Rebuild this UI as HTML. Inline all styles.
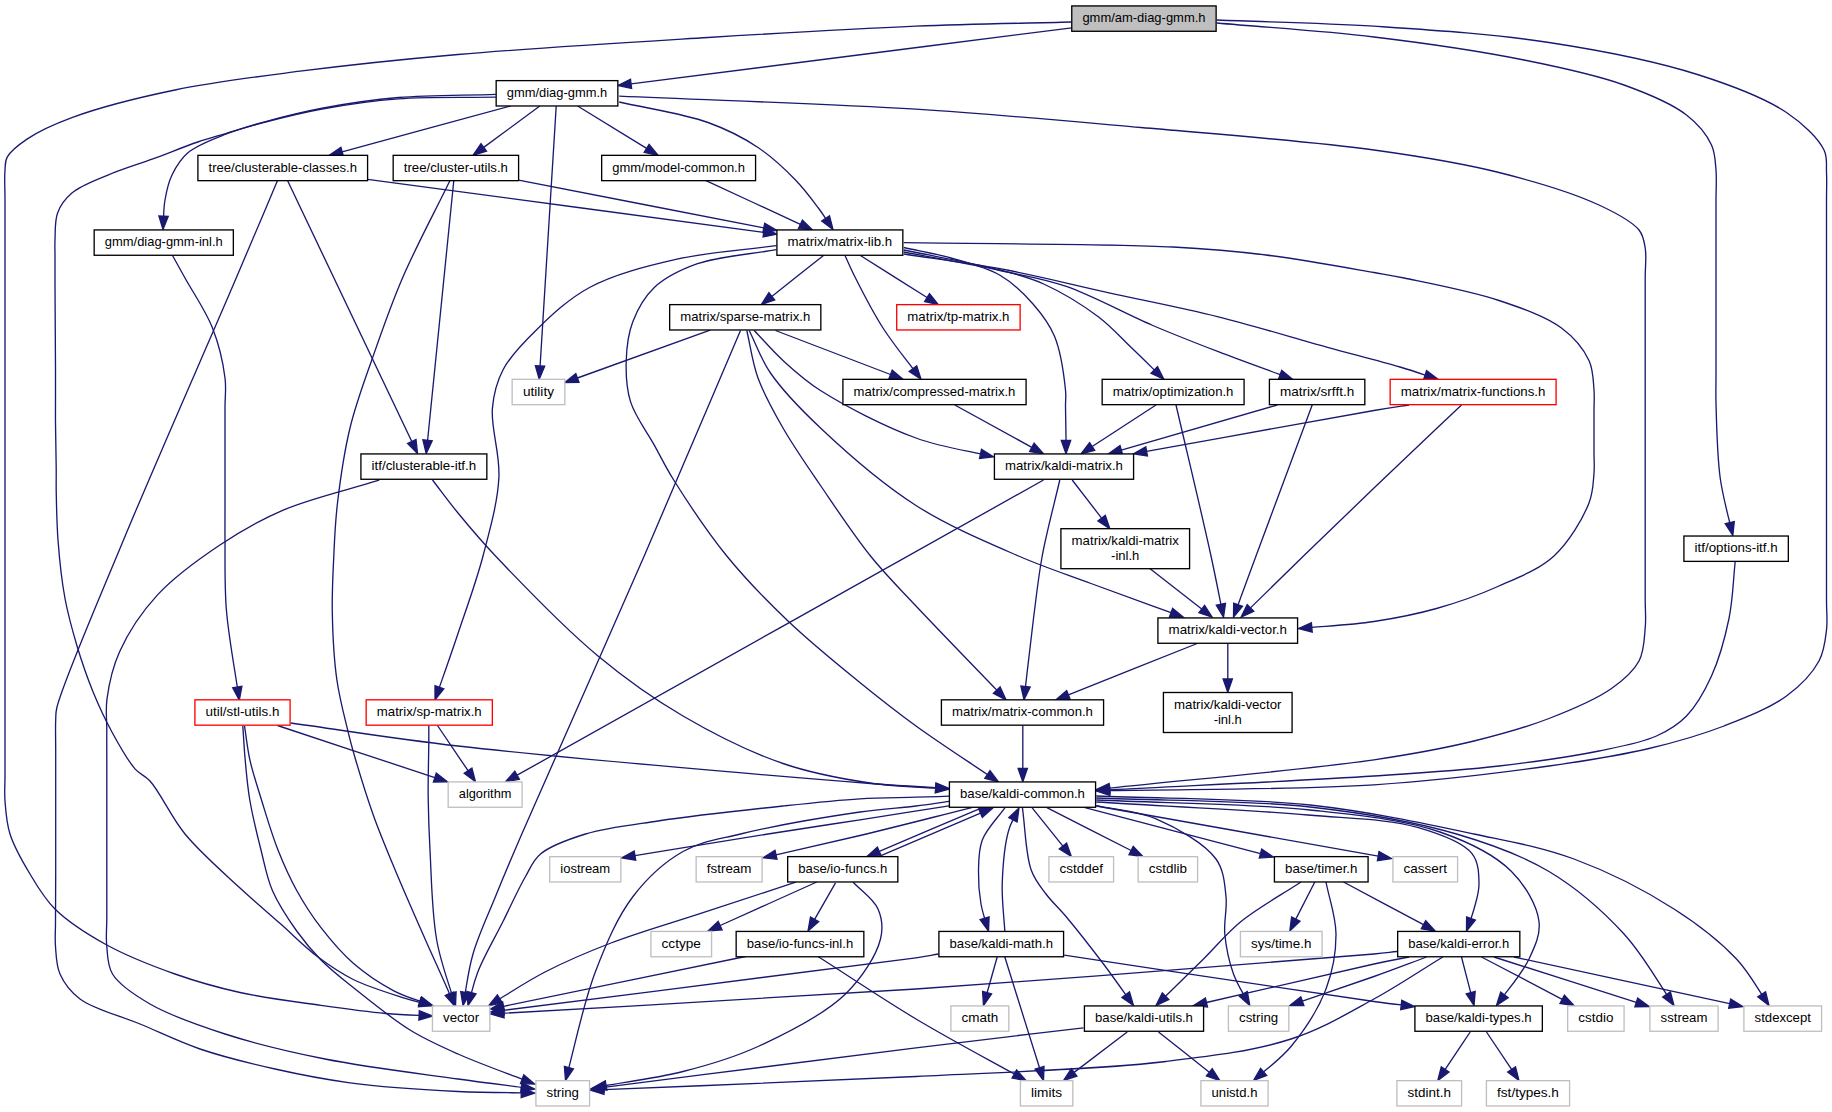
<!DOCTYPE html><html><head><meta charset="utf-8"><style>html,body{margin:0;padding:0;background:#fff;}svg{display:block;}text{font-family:"Liberation Sans",sans-serif;font-size:13.6px;fill:#000;}</style></head><body>
<svg width="1832" height="1112" viewBox="0 0 1832 1112">
<rect width="1832" height="1112" fill="#fff"/>
<g fill="none" stroke="#191970" stroke-width="1.33">
<path d="M1071.0,22.0C1019.3,23.4 971.4,24.0 916.0,26.2C851.7,28.9 780.5,33.1 708.0,37.5C628.5,42.4 531.8,48.1 458.0,54.5C399.3,59.6 349.5,64.9 300.0,71.2C255.8,76.9 214.4,81.8 175.0,90.0C138.8,97.5 98.9,107.6 71.9,117.6C53.5,124.4 38.5,131.3 27.0,139.1C18.6,144.8 10.5,151.0 7.2,157.1C4.9,161.4 5.4,164.8 5.0,170.0C4.3,177.9 5.0,187.9 5.0,200.0C5.0,218.5 5.0,251.5 5.0,270.0C5.0,282.1 5.0,290.0 5.0,300.0C5.0,310.0 5.0,314.6 5.0,330.0C5.0,381.9 5.0,618.1 5.0,670.0C5.0,685.4 5.0,690.4 5.0,700.0C5.0,708.8 5.0,715.4 5.0,725.2C5.0,739.2 5.0,761.8 5.0,775.8C5.0,785.6 4.3,792.0 5.0,801.0C5.8,811.3 6.4,822.8 10.0,834.0C14.1,847.0 22.4,861.4 30.0,874.0C37.4,886.4 44.1,898.2 55.0,909.0C68.0,921.9 86.3,933.6 105.0,944.0C125.8,955.6 151.8,965.8 175.0,974.0C196.8,981.7 217.0,987.4 240.0,992.5C265.4,998.1 295.5,1001.8 321.0,1005.4C343.7,1008.6 365.9,1011.7 385.7,1013.5C397.6,1014.6 408.3,1015.0 419.1,1015.4"/>
<path d="M1071.8,27.8C924.9,46.5 778.0,65.2 631.1,83.9"/>
<path d="M1217.0,23.0C1269.3,27.7 1322.4,30.7 1374.0,37.0C1424.7,43.1 1479.2,51.0 1524.0,60.0C1560.9,67.4 1595.0,74.5 1624.0,85.0C1647.8,93.6 1671.2,103.1 1686.5,115.0C1698.0,123.9 1706.8,134.8 1711.5,145.0C1715.3,153.2 1715.2,161.3 1716.0,170.0C1716.8,179.5 1716.0,187.9 1716.0,200.0C1716.0,218.5 1716.0,251.5 1716.0,270.0C1716.0,282.1 1716.0,290.4 1716.0,300.0C1716.0,308.9 1716.0,315.7 1716.0,325.8C1716.0,340.0 1716.0,363.0 1716.0,377.2C1716.0,387.3 1715.7,392.2 1716.0,403.0C1716.5,421.5 1717.1,454.8 1720.2,478.0C1722.4,493.9 1726.2,508.1 1729.7,522.5"/>
<path d="M1217.0,20.0C1269.3,22.1 1320.3,22.7 1374.0,26.2C1430.8,30.0 1493.2,33.9 1549.0,42.5C1601.2,50.5 1656.3,61.3 1699.0,75.0C1732.7,85.8 1764.4,97.6 1786.5,112.5C1803.0,123.6 1818.3,138.2 1824.0,150.0C1827.7,157.6 1826.1,164.1 1826.5,172.0C1827.0,181.2 1826.5,187.9 1826.5,202.0C1826.5,235.3 1826.5,336.7 1826.5,370.0C1826.5,384.1 1826.5,390.0 1826.5,400.0C1826.5,410.0 1826.5,415.9 1826.5,430.0C1826.5,463.5 1826.5,566.5 1826.5,600.0C1826.5,614.1 1827.7,620.0 1826.5,630.0C1825.3,640.3 1824.4,651.0 1819.0,661.0C1812.4,673.2 1800.3,685.9 1786.5,696.0C1769.9,708.2 1746.1,717.4 1724.0,726.0C1700.5,735.1 1676.0,742.1 1649.0,748.5C1618.3,755.8 1587.1,760.6 1549.0,766.0C1498.9,773.1 1439.1,780.5 1374.0,784.8C1296.1,789.8 1198.7,789.0 1109.6,790.7"/>
<path d="M495.8,94.3C463.3,95.4 428.8,94.9 398.4,97.5C371.3,99.8 345.6,103.8 322.0,108.2C301.4,112.1 281.7,117.2 264.6,121.8C250.5,125.6 238.2,129.7 226.4,133.3C216.2,136.4 208.3,138.4 197.8,142.0C184.4,146.5 167.9,153.4 152.9,158.9C137.9,164.4 121.9,169.1 107.9,175.1C95.1,180.6 80.6,185.7 71.9,193.1C65.1,198.9 60.4,205.3 57.6,212.9C54.6,220.9 55.4,232.3 55.0,240.0C54.7,245.7 55.0,249.1 55.0,255.0C55.0,263.3 55.0,272.5 55.0,285.0C55.1,306.1 55.4,348.9 55.5,370.0C55.5,382.5 55.5,390.7 55.5,400.0C55.5,408.1 55.4,413.8 55.5,422.6C55.6,435.1 56.1,455.4 56.2,467.9C56.3,476.7 56.1,481.5 56.2,490.5C56.5,503.8 56.7,522.8 58.0,540.0C59.4,558.7 61.6,580.2 65.0,598.5C68.1,615.0 72.2,629.7 76.8,645.2C81.5,660.9 87.1,677.2 93.1,692.0C98.8,705.9 104.8,718.9 111.8,731.7C118.8,744.6 127.6,760.5 135.2,769.1C140.2,774.7 144.6,775.0 150.0,781.0C160.0,791.9 171.0,817.0 185.0,834.0C200.5,852.8 222.9,872.1 240.0,888.0C254.3,901.3 267.1,911.9 280.2,923.6C293.0,934.9 305.0,947.2 317.7,956.8C329.4,965.6 340.1,973.0 353.3,979.5C367.9,986.7 387.5,992.7 401.9,997.3C408.3,999.3 414.1,1000.9 419.7,1002.3"/>
<path d="M495.8,97.2C463.3,97.7 428.8,96.5 398.4,98.8C371.3,100.8 345.6,104.7 322.0,109.0C301.4,112.8 281.7,117.7 264.6,122.3C250.5,126.1 238.9,129.1 226.4,134.0C213.5,139.1 197.6,144.7 188.2,152.6C180.6,159.0 175.9,167.0 172.0,175.0C168.2,182.8 166.5,191.2 165.0,200.0C164.1,205.2 163.8,210.7 163.6,216.2"/>
<path d="M510.5,106.0C454.4,121.3 398.2,136.5 342.1,151.8"/>
<path d="M539.8,106.0C521.1,119.8 502.4,133.6 483.7,147.4"/>
<path d="M556.2,106.2C550.9,192.8 545.5,279.4 540.1,365.9"/>
<path d="M577.6,106.0C600.6,120.1 623.6,134.2 646.6,148.4"/>
<path d="M619.2,102.0C648.8,108.8 683.1,113.5 708.0,122.5C727.5,129.5 743.1,137.5 758.0,147.5C772.1,156.9 785.0,169.2 795.5,180.0C804.4,189.2 811.4,198.7 818.0,207.5C820.8,211.2 823.3,214.8 825.6,218.4"/>
<path d="M619.2,96.2C718.2,100.6 824.0,103.5 916.0,109.2C996.2,114.3 1065.4,120.8 1141.0,127.5C1218.0,134.3 1308.5,141.0 1374.0,150.0C1422.3,156.7 1460.0,162.7 1499.0,172.5C1534.5,181.4 1573.7,193.2 1599.0,205.0C1615.9,212.9 1631.8,221.0 1639.0,230.0C1643.6,235.7 1644.1,241.1 1645.2,248.0C1646.7,256.6 1645.2,265.3 1645.2,278.0C1645.2,300.3 1645.2,347.7 1645.2,370.0C1645.2,382.7 1645.2,390.0 1645.2,400.0C1645.2,410.0 1645.2,415.9 1645.2,430.0C1645.2,463.3 1645.2,564.7 1645.2,598.0C1645.2,612.1 1646.2,617.8 1645.2,628.0C1644.2,638.8 1644.2,651.2 1639.0,661.0C1633.4,671.6 1623.4,680.1 1611.5,688.5C1595.6,699.8 1571.1,709.9 1549.0,718.5C1525.5,727.6 1501.0,734.4 1474.0,741.0C1443.2,748.5 1415.8,753.6 1374.0,759.8C1308.0,769.5 1199.7,778.7 1109.6,788.1"/>
<path d="M277.5,180.5C263.8,213.0 253.5,237.7 236.2,278.0C208.0,344.2 155.7,462.3 123.5,540.0C97.9,601.7 63.0,682.5 57.0,707.0C55.4,713.6 56.0,714.8 55.7,720.0C55.3,727.9 55.7,737.9 55.7,750.0C55.7,768.5 55.7,801.5 55.7,820.0C55.7,832.1 55.7,840.5 55.7,850.0C55.7,858.5 55.7,864.7 55.7,874.1C55.7,887.4 55.5,909.1 55.5,922.4C55.5,931.8 54.8,938.2 55.5,946.5C56.2,955.4 56.2,965.5 60.0,974.0C64.0,983.1 70.3,991.7 80.0,999.0C93.8,1009.4 120.0,1015.7 140.0,1024.0C160.0,1032.3 178.6,1041.7 200.0,1049.0C223.4,1056.9 249.9,1063.4 275.0,1069.0C299.9,1074.6 322.6,1079.1 350.0,1082.8C382.6,1087.1 425.1,1089.8 458.0,1091.5C480.8,1092.6 500.7,1092.6 521.3,1092.8"/>
<path d="M287.5,180.5C328.9,267.5 370.3,354.5 411.8,441.5"/>
<path d="M367.6,179.4C499.6,197.0 631.7,214.7 763.7,232.4"/>
<path d="M450.0,180.5C434.2,213.0 415.9,246.8 402.5,278.0C390.6,305.7 381.5,332.1 372.5,358.0C364.1,382.0 355.8,404.0 350.0,428.0C344.1,452.4 340.2,480.1 337.5,503.0C335.2,522.1 334.6,538.1 333.8,556.0C332.9,574.4 331.9,592.4 332.3,612.0C332.7,633.6 333.9,659.0 336.9,680.0C339.5,698.5 344.6,717.2 348.1,731.8C350.7,742.7 352.5,749.0 355.7,760.0C360.3,775.6 367.0,797.6 373.7,816.2C380.5,835.1 388.1,852.9 396.2,872.5C405.2,894.0 416.6,919.8 425.5,940.0C432.8,956.5 440.4,972.8 445.7,985.0C447.1,988.2 448.3,991.1 449.5,993.7"/>
<path d="M453.8,180.5C445.0,267.1 436.3,353.7 427.6,440.2"/>
<path d="M518.6,180.2C600.3,196.1 682.1,211.9 763.8,227.8"/>
<path d="M706.0,180.7C737.5,195.2 768.9,209.8 800.4,224.3"/>
<path d="M172.5,255.5C176.7,263.0 180.0,269.0 185.0,278.0C192.4,291.4 205.8,310.9 212.5,328.0C218.9,344.3 223.2,363.4 225.0,378.0C226.4,389.2 225.0,395.0 225.0,408.0C225.0,431.9 225.0,486.1 225.0,510.0C225.0,523.0 224.9,527.9 225.0,540.0C225.2,558.5 224.4,585.3 226.4,610.0C228.4,634.1 233.3,661.0 237.3,687.0"/>
<path d="M776.5,245.6C743.0,250.2 707.8,252.1 675.9,259.4C645.7,266.3 613.9,274.3 589.5,287.5C568.2,299.0 550.7,315.9 535.6,330.7C522.7,343.3 510.4,355.7 503.2,369.5C496.7,381.8 493.7,393.4 492.4,408.4C490.7,428.0 500.2,453.8 498.9,477.5C497.6,502.9 489.8,530.1 483.0,556.0C476.2,582.1 466.3,608.7 458.0,633.5C451.8,652.1 445.6,669.6 439.4,687.3"/>
<path d="M776.5,249.7C750.2,254.4 719.4,256.0 697.5,263.7C680.4,269.8 665.3,277.1 654.3,287.5C644.3,297.0 637.4,309.7 632.7,322.0C628.1,334.1 626.6,347.7 626.2,360.9C625.8,374.4 626.4,388.5 630.6,401.9C635.2,416.6 646.8,431.5 654.3,445.1C661.1,457.4 665.2,466.4 673.7,480.0C686.7,500.7 707.5,532.3 726.8,556.0C745.7,579.3 766.3,600.3 788.0,621.0C810.0,642.0 835.5,662.7 858.0,681.0C878.0,697.3 894.7,710.5 916.0,726.0C937.5,741.6 963.1,758.2 987.4,774.5"/>
<path d="M823.8,255.3C806.5,269.0 789.1,282.7 771.8,296.4"/>
<path d="M845.0,255.5C848.5,263.0 851.0,269.1 855.5,278.0C862.3,291.5 872.5,311.6 883.0,328.0C891.8,341.8 902.6,355.2 912.9,368.6"/>
<path d="M860.0,255.3C882.3,269.4 904.7,283.4 927.0,297.5"/>
<path d="M903.8,247.5C919.5,251.0 935.3,253.5 951.0,258.0C967.3,262.7 985.9,267.1 1000.0,275.3C1012.8,282.8 1023.6,293.2 1032.8,303.7C1041.6,313.7 1049.3,323.6 1054.6,336.4C1060.9,351.6 1064.2,377.3 1065.5,390.0C1066.2,396.8 1065.5,399.7 1065.5,405.9C1065.6,414.7 1065.9,429.0 1066.0,437.8C1066.0,438.7 1066.0,439.6 1066.0,440.4"/>
<path d="M903.8,250.0C935.9,256.7 974.3,263.2 1000.0,270.0C1017.5,274.6 1028.7,277.2 1043.7,284.0C1061.3,292.0 1082.9,305.2 1098.3,316.8C1111.2,326.5 1120.2,337.0 1131.0,347.3C1138.8,354.7 1146.5,362.3 1154.2,369.9"/>
<path d="M903.8,252.0C935.9,258.2 971.1,264.3 1000.0,270.5C1024.0,275.7 1042.5,278.3 1065.5,286.2C1092.9,295.6 1125.7,314.0 1152.8,325.5C1176.1,335.4 1195.7,343.0 1218.3,351.7C1238.2,359.4 1259.3,367.0 1280.1,374.6"/>
<path d="M903.8,254.0C935.9,258.9 967.0,262.6 1000.0,268.7C1035.3,275.3 1072.6,284.7 1109.0,292.8C1145.4,300.8 1182.0,307.7 1218.3,316.8C1254.8,325.9 1294.8,338.3 1327.5,347.3C1354.1,354.6 1379.8,361.0 1400.0,367.0C1409.6,369.9 1417.4,372.5 1425.1,375.1"/>
<path d="M903.8,242.7C993.5,244.1 1106.6,243.6 1173.0,247.0C1212.1,249.0 1233.9,251.0 1266.0,255.0C1300.7,259.3 1349.2,268.2 1374.0,272.5C1387.1,274.8 1391.2,275.3 1404.0,278.0C1426.8,282.8 1471.0,291.1 1499.0,300.5C1522.4,308.3 1545.8,316.3 1561.5,328.0C1573.9,337.2 1583.7,349.2 1589.0,360.5C1593.4,370.0 1593.2,381.0 1594.0,390.0C1594.6,397.5 1594.0,402.6 1594.0,410.8C1594.0,422.2 1594.0,440.8 1594.0,452.2C1594.0,460.4 1594.6,465.5 1594.0,473.0C1593.2,482.1 1593.3,492.1 1589.0,503.0C1582.8,518.8 1569.1,542.1 1554.0,556.0C1539.0,569.8 1518.3,577.3 1499.0,586.0C1479.2,594.9 1457.5,602.6 1436.5,608.5C1415.9,614.3 1395.9,618.2 1374.0,621.5C1354.3,624.5 1332.8,625.7 1311.8,627.4"/>
<path d="M710.2,330.0C665.9,346.0 621.6,362.0 577.4,378.0"/>
<path d="M740.5,330.5C708.4,405.7 678.5,477.0 644.2,556.0C606.1,643.9 547.4,774.3 521.8,834.0C509.6,862.2 503.8,876.1 495.5,896.5C487.6,916.0 478.5,935.1 473.0,954.0C469.2,967.0 467.4,979.6 465.3,992.4"/>
<path d="M746.8,330.5C750.5,346.3 752.3,362.3 758.0,378.0C764.1,394.8 773.3,411.0 783.0,428.0C793.8,446.8 806.9,465.5 820.5,485.5C835.8,507.9 853.6,535.0 870.5,556.0C885.5,574.6 898.1,586.9 916.0,606.0C938.3,629.8 969.0,661.3 996.8,690.1"/>
<path d="M749.2,330.5C756.3,344.7 760.6,358.6 770.5,373.0C782.8,391.0 800.3,408.9 820.5,428.0C846.5,452.6 882.3,483.9 916.0,505.5C948.5,526.3 987.0,542.3 1018.5,556.0C1044.5,567.3 1065.3,573.9 1091.0,583.5C1116.0,592.8 1143.9,602.9 1171.0,612.7"/>
<path d="M754.2,330.5C763.8,340.5 772.4,350.8 783.0,360.5C794.4,370.9 804.4,380.2 820.5,390.5C844.4,405.8 885.2,426.8 916.0,438.0C938.1,446.1 959.2,449.4 980.5,453.8"/>
<path d="M775.5,330.5C813.8,345.2 852.2,359.8 890.5,374.5"/>
<path d="M954.8,405.0C980.4,419.1 1006.1,433.2 1031.8,447.3"/>
<path d="M1156.0,405.0C1134.7,418.8 1113.5,432.7 1092.2,446.5"/>
<path d="M1176.0,405.0C1187.7,455.3 1202.5,516.8 1211.0,556.0C1215.2,575.4 1217.9,589.3 1220.9,604.2"/>
<path d="M1277.2,405.0C1225.3,420.0 1173.3,435.0 1121.3,450.1"/>
<path d="M1312.2,405.0C1293.5,455.3 1270.5,516.8 1256.0,556.0C1248.7,575.6 1243.6,589.7 1238.1,604.7"/>
<path d="M1409.0,405.0C1397.3,406.8 1390.9,407.7 1374.0,410.5C1332.1,417.6 1225.8,437.1 1146.6,451.4"/>
<path d="M1461.5,405.0C1432.3,432.7 1401.5,461.7 1374.0,488.0C1349.2,511.7 1326.3,533.9 1303.5,556.0C1285.3,573.7 1268.0,590.7 1250.5,607.9"/>
<path d="M379.2,480.2C347.2,490.2 311.3,498.1 283.2,510.1C259.5,520.2 240.7,531.1 220.3,544.7C198.7,559.1 174.5,576.3 157.3,595.1C141.5,612.3 128.0,633.0 119.6,651.7C112.4,667.6 108.9,684.7 107.0,698.9C105.5,710.2 106.8,719.7 106.8,730.0C106.7,740.1 106.8,746.1 106.8,760.0C106.8,791.8 106.8,884.7 106.8,916.5C106.8,930.4 105.7,936.8 106.8,946.5C107.7,955.9 107.3,965.5 112.5,974.0C119.3,985.1 134.5,995.0 150.0,1004.0C170.0,1015.7 197.9,1025.2 225.0,1034.0C255.6,1043.9 289.1,1051.8 325.0,1059.0C366.0,1067.2 419.7,1073.6 458.0,1079.0C481.9,1082.4 501.1,1084.7 521.4,1087.3"/>
<path d="M432.5,480.0C441.0,491.0 448.5,501.4 458.0,513.0C469.1,526.5 479.5,539.1 495.5,556.0C520.9,582.8 564.3,628.0 598.0,656.0C626.7,679.9 652.7,698.3 683.0,716.0C714.2,734.3 750.2,752.2 783.0,763.5C812.4,773.6 841.5,778.8 870.0,783.0C892.3,786.3 913.9,786.9 935.7,788.1"/>
<path d="M1043.5,480.0C868.0,578.4 692.6,676.8 517.1,775.2"/>
<path d="M1059.8,480.0C1053.9,505.3 1046.7,531.8 1042.2,556.0C1038.2,577.8 1036.4,596.3 1033.5,618.5C1030.8,639.7 1028.2,663.4 1025.5,686.5"/>
<path d="M1072.2,480.0C1082.0,492.7 1091.8,505.4 1101.6,518.1"/>
<path d="M1149.8,568.5C1167.1,582.0 1184.4,595.5 1201.7,609.1"/>
<path d="M1735.2,561.5C1733.2,580.5 1732.9,599.6 1729.0,618.5C1725.0,637.8 1719.2,659.0 1711.5,676.0C1704.7,691.0 1696.5,705.7 1686.5,716.0C1677.8,725.0 1668.7,730.5 1656.5,736.0C1640.9,743.0 1620.9,746.5 1599.0,751.0C1570.4,756.9 1534.3,761.9 1499.0,766.0C1459.7,770.5 1423.9,772.7 1374.0,776.0C1303.2,780.7 1199.3,785.2 1109.6,789.8"/>
<path d="M1197.2,643.5C1154.3,660.6 1111.3,677.7 1068.4,694.8"/>
<path d="M1227.8,643.5C1227.8,655.3 1227.8,667.1 1227.8,679.0"/>
<path d="M277.5,725.5C329.9,742.9 382.4,760.2 434.8,777.6"/>
<path d="M290.8,723.0C346.5,730.7 389.8,738.2 458.0,746.0C564.9,758.2 786.9,777.0 870.5,783.5C900.4,785.8 916.4,786.6 935.7,787.7"/>
<path d="M244.5,725.9C246.3,737.3 247.3,748.3 249.9,760.0C252.8,772.9 257.2,786.0 261.5,800.0C266.4,815.8 271.8,834.4 278.0,850.0C283.7,864.4 289.5,877.5 296.7,890.5C303.9,903.4 311.8,915.8 321.0,927.7C330.6,940.1 341.2,952.8 353.3,963.3C365.5,973.9 380.0,983.6 393.8,990.8C402.4,995.3 411.2,998.2 420.0,1001.2"/>
<path d="M242.8,725.9C243.6,737.3 244.1,748.2 245.2,760.0C246.4,772.8 247.4,786.0 249.8,800.0C252.5,815.8 257.0,834.3 261.0,850.0C264.6,864.3 266.7,877.4 272.4,890.5C278.4,904.4 288.1,918.9 296.7,931.0C304.4,941.8 311.9,950.8 321.0,960.0C330.6,969.7 340.8,977.6 353.3,987.6C369.4,1000.5 391.4,1018.5 410.0,1030.0C426.2,1040.0 439.9,1046.0 458.0,1054.0C476.8,1062.4 500.1,1070.8 522.2,1079.2"/>
<path d="M437.5,725.5C447.7,740.6 457.9,755.6 468.0,770.7"/>
<path d="M428.8,725.8C428.8,731.8 428.8,736.8 428.8,743.9C428.7,753.9 428.3,770.1 428.2,780.1C428.1,787.2 428.1,790.6 428.2,798.2C428.4,811.0 428.9,830.4 430.0,850.0C431.4,875.9 431.8,912.5 436.7,940.0C440.1,959.2 446.1,976.0 451.6,993.2"/>
<path d="M1022.8,725.5C1022.8,730.2 1022.8,734.1 1022.8,739.6C1022.8,747.3 1022.8,759.9 1022.8,767.7C1022.8,767.9 1022.8,768.2 1022.8,768.4"/>
<path d="M949.0,796.2C938.0,796.6 928.4,796.9 916.0,797.2C899.8,797.7 880.1,797.6 860.0,798.8C836.4,800.2 811.7,802.9 783.0,806.0C746.3,809.9 694.0,815.6 658.0,821.0C630.5,825.1 606.5,827.6 585.5,834.0C568.4,839.3 550.8,845.3 540.5,854.0C532.9,860.4 530.7,867.5 525.5,876.5C518.4,888.7 510.7,906.1 503.0,921.5C494.9,937.7 484.0,956.2 478.0,971.5C475.1,979.0 473.2,985.8 471.5,992.6"/>
<path d="M949.0,801.4C938.0,802.9 928.5,804.5 916.0,806.0C899.8,808.0 882.1,808.8 860.0,812.0C827.6,816.7 772.9,826.1 740.5,834.0C717.7,839.6 700.5,841.6 683.0,851.5C664.5,862.0 647.1,878.0 633.0,896.5C617.3,917.1 606.2,943.6 595.5,971.5C584.5,1000.1 577.3,1034.9 568.9,1067.6"/>
<path d="M949.0,805.8C919.3,810.5 889.9,815.1 860.0,819.8C829.6,824.5 802.2,828.6 768.0,834.0C728.7,840.2 680.1,848.2 634.9,855.6"/>
<path d="M971.8,807.6C934.5,816.9 896.0,826.9 860.0,835.5C831.1,842.4 803.8,848.5 776.0,854.8"/>
<path d="M982.3,807.6C948.0,822.2 913.6,836.7 879.3,851.3"/>
<path d="M881.0,855.6C914.2,841.5 947.3,827.3 980.5,813.2"/>
<path d="M1005.0,807.6C997.4,818.4 986.6,828.6 982.3,839.9C978.4,850.0 978.7,860.9 978.5,871.5C978.3,882.2 979.2,893.8 981.0,904.0C981.9,909.0 983.2,913.6 984.6,918.3"/>
<path d="M1004.8,931.0C1003.9,915.3 1001.7,900.1 1002.2,884.0C1002.8,866.8 1004.6,844.8 1008.5,831.0C1009.7,826.7 1011.2,823.2 1012.9,819.9"/>
<path d="M1022.4,807.6C1025.3,828.4 1025.6,854.5 1031.2,870.0C1034.9,880.4 1040.3,886.4 1046.0,894.0C1051.9,901.9 1058.4,907.5 1066.0,916.5C1076.7,929.3 1091.8,948.6 1103.5,964.0C1111.4,974.5 1118.5,984.5 1125.7,994.7"/>
<path d="M1032.0,807.6C1042.3,820.4 1052.6,833.3 1062.9,846.1"/>
<path d="M1046.9,807.6C1075.0,821.9 1103.0,836.2 1131.1,850.5"/>
<path d="M1096.3,805.6C1116.0,810.0 1136.4,810.6 1155.5,818.7C1176.4,827.6 1204.8,843.4 1216.0,859.0C1224.1,870.4 1224.6,883.9 1226.0,896.5C1227.4,908.9 1223.6,921.4 1224.8,934.0C1226.0,947.2 1229.1,961.7 1233.5,974.0C1236.1,981.1 1239.6,987.5 1243.3,993.9"/>
<path d="M1085.0,807.6C1143.5,822.9 1202.0,838.3 1260.5,853.6"/>
<path d="M1096.3,806.0C1190.3,822.7 1284.2,839.4 1378.2,856.2"/>
<path d="M1096.3,802.0C1166.9,806.3 1249.0,809.9 1308.0,815.0C1350.5,818.7 1387.9,818.9 1417.5,827.4C1439.4,833.7 1462.5,841.7 1472.0,853.6C1478.8,862.1 1478.9,874.3 1479.0,884.0C1479.1,892.7 1476.2,901.0 1474.0,909.0C1473.1,912.2 1472.1,915.4 1471.0,918.5"/>
<path d="M1096.3,800.0C1167.5,803.3 1247.7,803.3 1310.0,810.0C1358.9,815.3 1404.0,819.4 1440.0,832.0C1468.4,841.9 1494.7,854.6 1511.5,871.5C1525.6,885.6 1537.1,905.7 1539.0,921.5C1540.6,934.6 1534.9,946.4 1529.0,959.0C1523.5,970.8 1513.6,982.8 1504.4,994.8"/>
<path d="M1096.3,798.0C1167.5,801.0 1245.7,799.8 1310.0,807.0C1363.7,813.0 1413.8,821.6 1456.5,834.0C1491.4,844.2 1521.0,854.7 1549.0,871.5C1576.7,888.1 1602.8,910.9 1624.0,934.0C1641.0,952.5 1653.1,973.9 1666.6,994.4"/>
<path d="M1096.3,796.0C1167.5,799.0 1243.7,797.8 1310.0,805.0C1368.5,811.4 1426.2,823.8 1474.0,834.0C1511.6,842.0 1541.3,846.9 1574.0,859.0C1608.0,871.6 1645.4,890.7 1674.0,909.0C1698.2,924.5 1720.0,941.4 1736.5,959.0C1747.1,970.3 1754.1,982.4 1761.7,994.4"/>
<path d="M795.7,882.2C763.8,892.7 731.3,903.3 700.0,913.6C669.8,923.5 638.2,932.5 611.0,943.0C587.1,952.2 565.8,961.2 545.0,972.0C529.1,980.2 514.6,989.6 499.9,998.8"/>
<path d="M816.8,882.0C784.6,896.5 752.4,911.0 720.2,925.5"/>
<path d="M835.5,882.8C828.5,895.0 821.6,907.2 814.6,919.4"/>
<path d="M853.0,882.0C861.3,891.0 873.6,898.9 878.0,909.0C882.0,918.1 883.2,928.0 880.5,939.0C876.5,955.2 862.3,977.6 845.5,994.0C824.4,1014.5 786.8,1033.3 758.0,1046.5C732.7,1058.1 709.4,1064.8 683.0,1071.5C658.7,1077.7 632.1,1081.2 606.1,1085.5"/>
<path d="M745.5,956.5C664.9,973.1 584.2,989.7 503.6,1006.3"/>
<path d="M818.0,956.5C850.7,977.3 882.1,998.7 916.0,1019.0C947.6,1037.9 981.3,1055.8 1014.3,1074.0"/>
<path d="M938.5,954.0C931.0,955.2 928.2,956.0 916.0,957.8C864.6,965.3 646.2,992.2 503.7,1010.3"/>
<path d="M997.2,957.0C993.9,968.9 990.5,980.8 987.1,992.7"/>
<path d="M1004.8,957.0C1016.3,993.9 1027.9,1030.9 1039.5,1067.8"/>
<path d="M1064.2,955.2C1167.5,970.7 1319.1,994.0 1374.0,1001.5C1386.5,1003.2 1394.0,1004.1 1401.3,1004.9"/>
<path d="M1301.0,882.0C1281.0,895.2 1258.1,907.6 1241.0,921.5C1226.3,933.5 1216.8,945.9 1203.5,959.0C1191.6,970.8 1178.4,983.6 1165.5,996.2"/>
<path d="M1314.8,882.0C1308.4,894.4 1302.1,906.8 1295.8,919.1"/>
<path d="M1326.0,882.0C1329.3,899.3 1335.9,916.4 1336.0,934.0C1336.1,952.1 1332.8,971.1 1326.0,989.0C1318.5,1008.7 1304.1,1030.6 1291.0,1046.5C1282.6,1056.6 1273.1,1064.1 1263.6,1071.8"/>
<path d="M1343.5,882.0C1370.2,896.2 1396.8,910.5 1423.5,924.7"/>
<path d="M1397.0,951.5C1389.3,952.3 1386.5,952.8 1374.0,954.0C1318.1,959.2 1065.9,978.9 916.0,989.0C776.1,998.5 641.1,1005.2 503.8,1013.2"/>
<path d="M1409.0,957.0C1397.3,959.3 1390.2,960.5 1374.0,964.0C1339.8,971.4 1265.2,989.0 1206.5,1002.5"/>
<path d="M1426.5,957.0C1409.0,963.5 1393.6,969.5 1374.0,976.5C1352.9,984.0 1327.0,992.8 1302.4,1001.2"/>
<path d="M1442.8,957.0C1419.8,971.0 1398.3,985.7 1374.0,999.0C1348.0,1013.2 1322.3,1028.9 1291.0,1039.0C1254.3,1050.9 1215.0,1055.6 1166.0,1061.5C1097.2,1069.7 1004.8,1072.0 916.0,1076.5C818.8,1081.5 708.4,1085.3 603.8,1089.7"/>
<path d="M1461.5,957.0C1464.6,968.9 1467.6,980.7 1470.7,992.6"/>
<path d="M1481.5,957.0C1508.4,971.1 1535.3,985.2 1562.2,999.3"/>
<path d="M1494.0,957.0C1541.4,972.1 1588.9,987.3 1636.3,1002.4"/>
<path d="M1514.0,957.0C1585.9,972.6 1657.8,988.1 1729.7,1003.7"/>
<path d="M1083.5,1027.8C1027.7,1034.4 981.0,1039.8 916.0,1047.8C829.0,1058.5 709.1,1073.9 603.7,1087.3"/>
<path d="M1127.2,1032.0C1109.5,1045.5 1091.8,1059.0 1074.1,1072.4"/>
<path d="M1158.5,1032.0C1175.4,1045.4 1192.4,1058.8 1209.3,1072.2"/>
<path d="M1470.2,1032.0C1461.9,1044.5 1453.5,1057.0 1445.2,1069.4"/>
<path d="M1486.5,1032.0C1494.9,1044.5 1503.2,1057.0 1511.6,1069.4"/>
</g><g fill="#191970" stroke="#191970" stroke-width="1.33">
<polygon points="432.4,1016.0 418.9,1020.1 419.3,1010.7"/>
<polygon points="617.8,85.6 630.5,79.2 631.6,88.5"/>
<polygon points="1732.8,535.5 1725.2,523.6 1734.3,521.5"/>
<polygon points="1096.3,791.0 1109.5,786.1 1109.7,795.4"/>
<polygon points="432.6,1005.6 418.5,1006.8 420.9,997.8"/>
<polygon points="163.0,229.5 158.9,216.0 168.2,216.4"/>
<polygon points="329.3,155.3 340.9,147.3 343.4,156.3"/>
<polygon points="473.0,155.3 481.0,143.7 486.5,151.2"/>
<polygon points="539.2,379.2 535.4,365.7 544.7,366.2"/>
<polygon points="658.0,155.3 644.2,152.3 649.1,144.4"/>
<polygon points="833.0,229.5 821.7,221.0 829.5,215.8"/>
<polygon points="1096.3,789.5 1109.1,783.5 1110.0,792.7"/>
<polygon points="534.6,1093.0 521.2,1097.5 521.3,1088.1"/>
<polygon points="417.5,453.5 407.6,443.5 416.0,439.5"/>
<polygon points="776.9,234.2 763.1,237.0 764.3,227.8"/>
<polygon points="454.7,1006.0 445.2,995.6 453.8,991.9"/>
<polygon points="426.2,453.5 422.9,439.8 432.2,440.7"/>
<polygon points="776.9,230.4 762.9,232.4 764.7,223.2"/>
<polygon points="812.5,229.9 798.4,228.6 802.4,220.1"/>
<polygon points="239.3,700.2 232.7,687.7 241.9,686.3"/>
<polygon points="435.0,699.9 435.0,685.8 443.8,688.8"/>
<polygon points="998.5,781.9 984.8,778.3 990.0,770.6"/>
<polygon points="761.3,304.6 768.9,292.7 774.7,300.0"/>
<polygon points="921.0,379.2 909.2,371.4 916.7,365.8"/>
<polygon points="938.3,304.6 924.6,301.5 929.5,293.6"/>
<polygon points="1066.0,453.8 1061.3,440.4 1070.7,440.4"/>
<polygon points="1163.8,379.2 1151.0,373.3 1157.5,366.6"/>
<polygon points="1292.6,379.2 1278.5,379.0 1281.7,370.3"/>
<polygon points="1437.8,379.2 1423.6,379.5 1426.6,370.6"/>
<polygon points="1298.5,628.5 1311.4,622.7 1312.2,632.0"/>
<polygon points="564.8,382.5 575.8,373.6 579.0,382.3"/>
<polygon points="463.0,1005.5 460.7,991.6 469.9,993.2"/>
<polygon points="1006.0,699.8 993.4,693.4 1000.1,686.9"/>
<polygon points="1183.5,617.2 1169.4,617.1 1172.6,608.3"/>
<polygon points="993.5,456.8 979.5,458.4 981.5,449.3"/>
<polygon points="903.0,379.2 888.9,378.9 892.2,370.1"/>
<polygon points="1043.5,453.8 1029.6,451.4 1034.1,443.2"/>
<polygon points="1081.0,453.8 1089.6,442.6 1094.7,450.4"/>
<polygon points="1223.5,617.2 1216.3,605.1 1225.5,603.3"/>
<polygon points="1108.5,453.8 1120.0,445.6 1122.6,454.5"/>
<polygon points="1233.5,617.2 1233.7,603.1 1242.5,606.3"/>
<polygon points="1133.5,453.8 1145.8,446.8 1147.4,456.0"/>
<polygon points="1241.0,617.2 1247.2,604.6 1253.8,611.2"/>
<polygon points="534.6,1089.0 520.8,1091.9 522.0,1082.7"/>
<polygon points="949.0,789.0 935.4,792.8 936.0,783.5"/>
<polygon points="505.5,781.8 514.8,771.2 519.4,779.3"/>
<polygon points="1024.0,699.8 1020.9,686.0 1030.2,687.0"/>
<polygon points="1109.8,528.7 1097.9,521.0 1105.3,515.3"/>
<polygon points="1212.2,617.2 1198.9,612.7 1204.6,605.4"/>
<polygon points="1096.3,790.5 1109.4,785.1 1109.9,794.5"/>
<polygon points="1056.0,699.8 1066.7,690.5 1070.1,699.2"/>
<polygon points="1227.8,692.3 1223.1,679.0 1232.4,679.0"/>
<polygon points="447.5,781.8 433.4,782.0 436.3,773.1"/>
<polygon points="949.0,788.5 935.4,792.4 936.0,783.0"/>
<polygon points="432.6,1005.6 418.5,1005.6 421.6,996.8"/>
<polygon points="534.6,1084.0 520.5,1083.6 523.8,1074.8"/>
<polygon points="475.5,781.8 464.2,773.3 471.9,768.1"/>
<polygon points="455.5,1006.0 447.2,994.6 456.1,991.9"/>
<polygon points="1022.8,781.8 1018.1,768.4 1027.4,768.4"/>
<polygon points="468.0,1005.5 466.9,991.4 476.0,993.8"/>
<polygon points="565.5,1080.5 564.4,1066.4 573.4,1068.8"/>
<polygon points="621.8,857.8 634.2,851.0 635.7,860.2"/>
<polygon points="763.0,857.8 775.0,850.2 777.0,859.3"/>
<polygon points="867.0,856.5 877.4,847.0 881.1,855.6"/>
<polygon points="992.8,808.0 982.3,817.5 978.7,808.9"/>
<polygon points="988.5,931.0 980.1,919.6 989.1,916.9"/>
<polygon points="1019.0,808.0 1017.1,822.0 1008.8,817.7"/>
<polygon points="1133.5,1005.5 1121.9,997.4 1129.5,991.9"/>
<polygon points="1071.3,856.5 1059.3,849.0 1066.6,843.2"/>
<polygon points="1143.0,856.5 1129.0,854.6 1133.2,846.3"/>
<polygon points="1249.8,1005.5 1239.2,996.1 1247.3,991.6"/>
<polygon points="1273.4,857.0 1259.3,858.1 1261.7,849.1"/>
<polygon points="1391.3,858.5 1377.4,860.8 1379.0,851.6"/>
<polygon points="1466.5,931.0 1466.6,916.9 1475.4,920.0"/>
<polygon points="1496.5,1005.5 1500.7,992.0 1508.2,997.6"/>
<polygon points="1674.0,1005.5 1662.7,997.1 1670.4,991.8"/>
<polygon points="1769.0,1005.5 1757.8,996.9 1765.6,991.8"/>
<polygon points="488.5,1005.8 497.4,994.9 502.3,1002.8"/>
<polygon points="708.0,931.0 718.2,921.3 722.1,929.8"/>
<polygon points="808.0,931.0 810.5,917.1 818.7,921.7"/>
<polygon points="593.0,1087.8 605.3,1080.9 606.9,1090.1"/>
<polygon points="490.5,1009.0 502.6,1001.7 504.5,1010.9"/>
<polygon points="1026.0,1080.5 1012.1,1078.1 1016.6,1069.9"/>
<polygon points="490.5,1012.0 503.1,1005.7 504.3,1014.9"/>
<polygon points="983.5,1005.5 982.6,991.4 991.6,993.9"/>
<polygon points="1043.5,1080.5 1035.1,1069.2 1044.0,1066.4"/>
<polygon points="1414.5,1006.5 1400.7,1009.6 1401.8,1000.3"/>
<polygon points="1156.0,1005.5 1162.3,992.8 1168.8,999.5"/>
<polygon points="1289.8,931.0 1291.6,917.0 1300.0,921.2"/>
<polygon points="1253.5,1080.5 1260.6,1068.3 1266.7,1075.4"/>
<polygon points="1435.2,931.0 1421.3,928.8 1425.7,920.6"/>
<polygon points="490.5,1014.0 503.5,1008.6 504.1,1017.9"/>
<polygon points="1193.5,1005.5 1205.4,998.0 1207.5,1007.1"/>
<polygon points="1289.8,1005.5 1300.8,996.8 1303.9,1005.6"/>
<polygon points="590.5,1090.2 603.6,1085.0 604.0,1094.4"/>
<polygon points="1474.0,1005.5 1466.2,993.8 1475.2,991.4"/>
<polygon points="1574.0,1005.5 1560.0,1003.4 1564.4,995.2"/>
<polygon points="1649.0,1006.5 1634.9,1006.9 1637.7,998.0"/>
<polygon points="1742.8,1006.5 1728.7,1008.2 1730.7,999.1"/>
<polygon points="590.5,1089.0 603.1,1082.7 604.3,1092.0"/>
<polygon points="1063.5,1080.5 1071.3,1068.7 1076.9,1076.1"/>
<polygon points="1219.8,1080.5 1206.4,1075.9 1212.2,1068.6"/>
<polygon points="1437.8,1080.5 1441.3,1066.8 1449.0,1072.0"/>
<polygon points="1519.0,1080.5 1507.7,1072.0 1515.5,1066.8"/>
</g>
<rect x="1071.76" y="5.93" width="144.37" height="25.34" fill="#bfbfbf" stroke="#000" stroke-width="1.33"/>
<text x="1143.95" y="22.30" text-anchor="middle" textLength="123.07" lengthAdjust="spacingAndGlyphs">gmm/am-diag-gmm.h</text>
<rect x="496.17" y="80.63" width="121.67" height="25.34" fill="#fff" stroke="#000" stroke-width="1.33"/>
<text x="557.00" y="97.00" text-anchor="middle" textLength="100.37" lengthAdjust="spacingAndGlyphs">gmm/diag-gmm.h</text>
<rect x="197.91" y="155.33" width="169.67" height="25.34" fill="#fff" stroke="#000" stroke-width="1.33"/>
<text x="282.75" y="171.70" text-anchor="middle" textLength="148.37" lengthAdjust="spacingAndGlyphs">tree/clusterable-classes.h</text>
<rect x="393.17" y="155.33" width="125.42" height="25.34" fill="#fff" stroke="#000" stroke-width="1.33"/>
<text x="455.88" y="171.70" text-anchor="middle" textLength="104.12" lengthAdjust="spacingAndGlyphs">tree/cluster-utils.h</text>
<rect x="601.66" y="155.33" width="153.92" height="25.34" fill="#fff" stroke="#000" stroke-width="1.33"/>
<text x="678.62" y="171.70" text-anchor="middle" textLength="132.62" lengthAdjust="spacingAndGlyphs">gmm/model-common.h</text>
<rect x="94.17" y="229.93" width="139.17" height="25.34" fill="#fff" stroke="#000" stroke-width="1.33"/>
<text x="163.75" y="246.30" text-anchor="middle" textLength="117.87" lengthAdjust="spacingAndGlyphs">gmm/diag-gmm-inl.h</text>
<rect x="776.91" y="229.93" width="125.92" height="25.34" fill="#fff" stroke="#000" stroke-width="1.33"/>
<text x="839.88" y="246.30" text-anchor="middle" textLength="104.62" lengthAdjust="spacingAndGlyphs">matrix/matrix-lib.h</text>
<rect x="669.66" y="304.63" width="151.17" height="25.34" fill="#fff" stroke="#000" stroke-width="1.33"/>
<text x="745.25" y="321.00" text-anchor="middle" textLength="129.87" lengthAdjust="spacingAndGlyphs">matrix/sparse-matrix.h</text>
<rect x="896.71" y="304.63" width="123.42" height="25.34" fill="#fff" stroke="#ff0000" stroke-width="1.33"/>
<text x="958.42" y="321.00" text-anchor="middle" textLength="102.12" lengthAdjust="spacingAndGlyphs">matrix/tp-matrix.h</text>
<rect x="512.16" y="379.33" width="52.67" height="25.34" fill="#fff" stroke="#bfbfbf" stroke-width="1.33"/>
<text x="538.50" y="395.70" text-anchor="middle" textLength="30.97" lengthAdjust="spacingAndGlyphs">utility</text>
<rect x="842.91" y="379.33" width="183.17" height="25.34" fill="#fff" stroke="#000" stroke-width="1.33"/>
<text x="934.50" y="395.70" text-anchor="middle" textLength="161.87" lengthAdjust="spacingAndGlyphs">matrix/compressed-matrix.h</text>
<rect x="1102.16" y="379.33" width="141.92" height="25.34" fill="#fff" stroke="#000" stroke-width="1.33"/>
<text x="1173.12" y="395.70" text-anchor="middle" textLength="120.62" lengthAdjust="spacingAndGlyphs">matrix/optimization.h</text>
<rect x="1269.41" y="379.33" width="95.42" height="25.34" fill="#fff" stroke="#000" stroke-width="1.33"/>
<text x="1317.12" y="395.70" text-anchor="middle" textLength="74.12" lengthAdjust="spacingAndGlyphs">matrix/srfft.h</text>
<rect x="1390.16" y="379.33" width="165.92" height="25.34" fill="#fff" stroke="#ff0000" stroke-width="1.33"/>
<text x="1473.12" y="395.70" text-anchor="middle" textLength="144.62" lengthAdjust="spacingAndGlyphs">matrix/matrix-functions.h</text>
<rect x="360.92" y="453.93" width="125.92" height="25.34" fill="#fff" stroke="#000" stroke-width="1.33"/>
<text x="423.88" y="470.30" text-anchor="middle" textLength="104.62" lengthAdjust="spacingAndGlyphs">itf/clusterable-itf.h</text>
<rect x="994.41" y="453.93" width="139.17" height="25.34" fill="#fff" stroke="#000" stroke-width="1.33"/>
<text x="1064.00" y="470.30" text-anchor="middle" textLength="117.87" lengthAdjust="spacingAndGlyphs">matrix/kaldi-matrix.h</text>
<rect x="1060.91" y="528.70" width="128.67" height="40.00" fill="#fff" stroke="#000" stroke-width="1.33"/>
<text x="1125.25" y="545.10" text-anchor="middle" textLength="107.37" lengthAdjust="spacingAndGlyphs">matrix/kaldi-matrix</text>
<text x="1125.25" y="559.70" text-anchor="middle" textLength="28.27" lengthAdjust="spacingAndGlyphs">-inl.h</text>
<rect x="1683.91" y="536.03" width="104.42" height="25.34" fill="#fff" stroke="#000" stroke-width="1.33"/>
<text x="1736.12" y="552.40" text-anchor="middle" textLength="83.12" lengthAdjust="spacingAndGlyphs">itf/options-itf.h</text>
<rect x="1157.91" y="617.93" width="139.67" height="25.34" fill="#fff" stroke="#000" stroke-width="1.33"/>
<text x="1227.75" y="634.30" text-anchor="middle" textLength="118.37" lengthAdjust="spacingAndGlyphs">matrix/kaldi-vector.h</text>
<rect x="194.91" y="699.83" width="95.17" height="25.34" fill="#fff" stroke="#ff0000" stroke-width="1.33"/>
<text x="242.50" y="716.20" text-anchor="middle" textLength="73.87" lengthAdjust="spacingAndGlyphs">util/stl-utils.h</text>
<rect x="366.17" y="699.83" width="126.17" height="25.34" fill="#fff" stroke="#ff0000" stroke-width="1.33"/>
<text x="429.25" y="716.20" text-anchor="middle" textLength="104.87" lengthAdjust="spacingAndGlyphs">matrix/sp-matrix.h</text>
<rect x="941.41" y="699.83" width="162.17" height="25.34" fill="#fff" stroke="#000" stroke-width="1.33"/>
<text x="1022.50" y="716.20" text-anchor="middle" textLength="140.87" lengthAdjust="spacingAndGlyphs">matrix/matrix-common.h</text>
<rect x="1163.41" y="692.50" width="128.67" height="40.00" fill="#fff" stroke="#000" stroke-width="1.33"/>
<text x="1227.75" y="708.90" text-anchor="middle" textLength="107.37" lengthAdjust="spacingAndGlyphs">matrix/kaldi-vector</text>
<text x="1227.75" y="723.50" text-anchor="middle" textLength="28.25" lengthAdjust="spacingAndGlyphs">-inl.h</text>
<rect x="448.17" y="781.93" width="73.92" height="25.34" fill="#fff" stroke="#bfbfbf" stroke-width="1.33"/>
<text x="485.12" y="798.30" text-anchor="middle" textLength="52.62" lengthAdjust="spacingAndGlyphs">algorithm</text>
<rect x="949.41" y="781.93" width="146.17" height="25.34" fill="#fff" stroke="#000" stroke-width="1.33"/>
<text x="1022.50" y="798.30" text-anchor="middle" textLength="124.87" lengthAdjust="spacingAndGlyphs">base/kaldi-common.h</text>
<rect x="549.66" y="856.63" width="71.17" height="25.34" fill="#fff" stroke="#bfbfbf" stroke-width="1.33"/>
<text x="585.25" y="873.00" text-anchor="middle" textLength="49.87" lengthAdjust="spacingAndGlyphs">iostream</text>
<rect x="696.16" y="856.63" width="65.92" height="25.34" fill="#fff" stroke="#bfbfbf" stroke-width="1.33"/>
<text x="729.12" y="873.00" text-anchor="middle" textLength="44.62" lengthAdjust="spacingAndGlyphs">fstream</text>
<rect x="787.66" y="856.63" width="110.17" height="25.34" fill="#fff" stroke="#000" stroke-width="1.33"/>
<text x="842.75" y="873.00" text-anchor="middle" textLength="88.87" lengthAdjust="spacingAndGlyphs">base/io-funcs.h</text>
<rect x="1048.91" y="856.63" width="64.67" height="25.34" fill="#fff" stroke="#bfbfbf" stroke-width="1.33"/>
<text x="1081.25" y="873.00" text-anchor="middle" textLength="43.37" lengthAdjust="spacingAndGlyphs">cstddef</text>
<rect x="1138.16" y="856.63" width="59.42" height="25.34" fill="#fff" stroke="#bfbfbf" stroke-width="1.33"/>
<text x="1167.88" y="873.00" text-anchor="middle" textLength="38.12" lengthAdjust="spacingAndGlyphs">cstdlib</text>
<rect x="1274.41" y="856.63" width="93.67" height="25.34" fill="#fff" stroke="#000" stroke-width="1.33"/>
<text x="1321.25" y="873.00" text-anchor="middle" textLength="72.37" lengthAdjust="spacingAndGlyphs">base/timer.h</text>
<rect x="1392.91" y="856.63" width="64.67" height="25.34" fill="#fff" stroke="#bfbfbf" stroke-width="1.33"/>
<text x="1425.25" y="873.00" text-anchor="middle" textLength="43.37" lengthAdjust="spacingAndGlyphs">cassert</text>
<rect x="650.91" y="931.43" width="60.67" height="25.34" fill="#fff" stroke="#bfbfbf" stroke-width="1.33"/>
<text x="681.25" y="947.80" text-anchor="middle" textLength="39.37" lengthAdjust="spacingAndGlyphs">cctype</text>
<rect x="736.16" y="931.43" width="127.67" height="25.34" fill="#fff" stroke="#000" stroke-width="1.33"/>
<text x="800.00" y="947.80" text-anchor="middle" textLength="106.37" lengthAdjust="spacingAndGlyphs">base/io-funcs-inl.h</text>
<rect x="938.91" y="931.43" width="124.67" height="25.34" fill="#fff" stroke="#000" stroke-width="1.33"/>
<text x="1001.25" y="947.80" text-anchor="middle" textLength="103.37" lengthAdjust="spacingAndGlyphs">base/kaldi-math.h</text>
<rect x="1240.41" y="931.43" width="81.67" height="25.34" fill="#fff" stroke="#bfbfbf" stroke-width="1.33"/>
<text x="1281.25" y="947.80" text-anchor="middle" textLength="60.37" lengthAdjust="spacingAndGlyphs">sys/time.h</text>
<rect x="1397.66" y="931.43" width="122.17" height="25.34" fill="#fff" stroke="#000" stroke-width="1.33"/>
<text x="1458.75" y="947.80" text-anchor="middle" textLength="100.87" lengthAdjust="spacingAndGlyphs">base/kaldi-error.h</text>
<rect x="432.42" y="1005.93" width="57.42" height="25.34" fill="#fff" stroke="#bfbfbf" stroke-width="1.33"/>
<text x="461.12" y="1022.30" text-anchor="middle" textLength="36.12" lengthAdjust="spacingAndGlyphs">vector</text>
<rect x="950.91" y="1005.93" width="57.92" height="25.34" fill="#fff" stroke="#bfbfbf" stroke-width="1.33"/>
<text x="979.88" y="1022.30" text-anchor="middle" textLength="36.62" lengthAdjust="spacingAndGlyphs">cmath</text>
<rect x="1084.41" y="1005.93" width="119.17" height="25.34" fill="#fff" stroke="#000" stroke-width="1.33"/>
<text x="1144.00" y="1022.30" text-anchor="middle" textLength="97.87" lengthAdjust="spacingAndGlyphs">base/kaldi-utils.h</text>
<rect x="1228.41" y="1005.93" width="60.42" height="25.34" fill="#fff" stroke="#bfbfbf" stroke-width="1.33"/>
<text x="1258.62" y="1022.30" text-anchor="middle" textLength="39.12" lengthAdjust="spacingAndGlyphs">cstring</text>
<rect x="1414.91" y="1005.93" width="127.42" height="25.34" fill="#fff" stroke="#000" stroke-width="1.33"/>
<text x="1478.62" y="1022.30" text-anchor="middle" textLength="106.12" lengthAdjust="spacingAndGlyphs">base/kaldi-types.h</text>
<rect x="1567.66" y="1005.93" width="56.42" height="25.34" fill="#fff" stroke="#bfbfbf" stroke-width="1.33"/>
<text x="1595.88" y="1022.30" text-anchor="middle" textLength="35.12" lengthAdjust="spacingAndGlyphs">cstdio</text>
<rect x="1649.91" y="1005.93" width="68.17" height="25.34" fill="#fff" stroke="#bfbfbf" stroke-width="1.33"/>
<text x="1684.00" y="1022.30" text-anchor="middle" textLength="46.87" lengthAdjust="spacingAndGlyphs">sstream</text>
<rect x="1743.91" y="1005.93" width="77.67" height="25.34" fill="#fff" stroke="#bfbfbf" stroke-width="1.33"/>
<text x="1782.75" y="1022.30" text-anchor="middle" textLength="56.37" lengthAdjust="spacingAndGlyphs">stdexcept</text>
<rect x="535.91" y="1080.63" width="53.67" height="25.34" fill="#fff" stroke="#bfbfbf" stroke-width="1.33"/>
<text x="562.75" y="1097.00" text-anchor="middle" textLength="32.37" lengthAdjust="spacingAndGlyphs">string</text>
<rect x="1020.41" y="1080.63" width="52.42" height="25.34" fill="#fff" stroke="#bfbfbf" stroke-width="1.33"/>
<text x="1046.62" y="1097.00" text-anchor="middle" textLength="31.12" lengthAdjust="spacingAndGlyphs">limits</text>
<rect x="1200.91" y="1080.63" width="67.17" height="25.34" fill="#fff" stroke="#bfbfbf" stroke-width="1.33"/>
<text x="1234.50" y="1097.00" text-anchor="middle" textLength="45.87" lengthAdjust="spacingAndGlyphs">unistd.h</text>
<rect x="1396.91" y="1080.63" width="64.67" height="25.34" fill="#fff" stroke="#bfbfbf" stroke-width="1.33"/>
<text x="1429.25" y="1097.00" text-anchor="middle" textLength="43.37" lengthAdjust="spacingAndGlyphs">stdint.h</text>
<rect x="1486.41" y="1080.63" width="83.17" height="25.34" fill="#fff" stroke="#bfbfbf" stroke-width="1.33"/>
<text x="1528.00" y="1097.00" text-anchor="middle" textLength="61.87" lengthAdjust="spacingAndGlyphs">fst/types.h</text>
</svg></body></html>
